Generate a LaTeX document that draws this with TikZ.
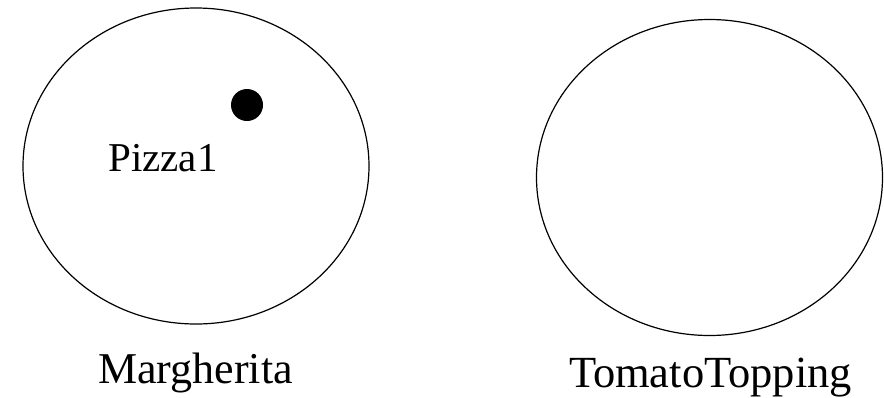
\documentclass[tikz,border=0pt]{standalone}
\usepackage{fontspec}
\setmainfont{Liberation Serif}
\usetikzlibrary{shapes.geometric}
\begin{document}
\begin{tikzpicture}[x=1pt,y=-1pt,
  setshape/.style={draw,ellipse,line width=1.2pt,inner sep=0pt,minimum width=346pt,minimum height=316pt},
  member/.style={circle,fill=black,inner sep=0pt,minimum size=32pt},
  lbl/.style={anchor=base,inner sep=0pt,font=\fontsize{41}{41}\selectfont}]
\useasboundingbox (0,0) rectangle (884,397);
\node[setshape] (marg) at (196,166) {};
\node[setshape] (tomato) at (709.5,177.5) {};
\node[member] (pizza) at (247,105) {};
\node[lbl] (pizzalbl) at (163,171) {Pizza1};
\node[lbl,font=\fontsize{44}{44}\selectfont] (marglbl) at (195.5,383) {Margherita};
\node[lbl,font=\fontsize{44.5}{44.5}\selectfont] (tomatolbl) at (710.5,387) {TomatoTopping};
\end{tikzpicture}
\end{document}
